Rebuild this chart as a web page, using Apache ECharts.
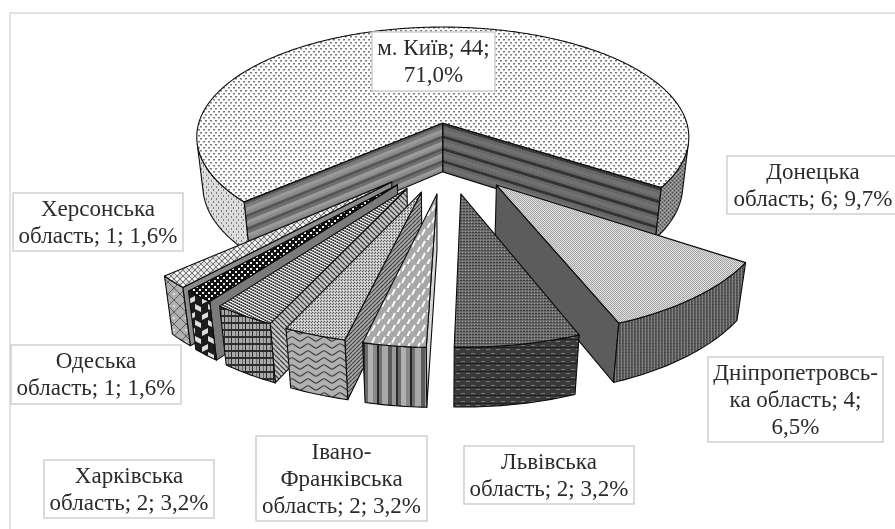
<!DOCTYPE html>
<html><head><meta charset="utf-8">
<style>html,body{margin:0;padding:0;background:#fff}#c{width:895px;height:529px}</style>
<script src="https://cdn.jsdelivr.net/npm/echarts@6/dist/echarts.min.js"></script>
</head><body><div id="c"></div>
<script>
// ---- data ----
const categories = ['м. Київ','Донецька\nобласть','Дніпропетровсь-\nка область','Львівська\nобласть','Івано-\nФранківська\nобласть','Харківська\nобласть','Одеська\nобласть','Херсонська\nобласть'];
const values = [44,6,4,2,2,2,1,1];
const percentLabels = ['71,0%','9,7%','6,5%','3,2%','3,2%','3,2%','1,6%','1,6%'];
const percentOnNewLine = [true,false,true,false,false,false,false,false];

// ---- layout (not data) ----
const labelBoxes = [[372,32,123,59],[727,156,172,58],[708,357,175,85],[464,446,170,58],[256,436,171,85],[44,460,170,58],[11,345,170,59],[13,193,170,58]];
const explode = [.27,.34,.34,.34,.34,.34,.34,.34];
const explodeXScale = .88;
const radius = [1,1.035,1.035,1.035,1.035,1.035,1.035,1.035];
const depth = [50,54.5,54.5,54.5,54.5,54.5,54.5,54.5];
const paintOrder = [0,7,6,5,4,3,1,2];
const startAngle = 228.2;
const CENTER = [.02,.27];
const P = {x0:442,y0:123,R:244,B:108.2,k:.127,m:.025};

function proj(X,Y,Z){const w=1-P.k*Y+P.m*(Z?1:0);return [P.x0+P.R*X/w,P.y0+(P.B*Y+Z)/w];}
function dir(a){const r=a*Math.PI/180;return [Math.sin(r),-Math.cos(r)];}
function area(p){let s=0;for(let i=0;i<p.length;i++){const a=p[i],b=p[(i+1)%p.length];s+=a[0]*b[1]-b[0]*a[1];}return s/2;}

// ---- texture fills ----
function mk(w,h,bg,fn){const c=document.createElement('canvas');c.width=w;c.height=h;const g=c.getContext('2d');g.fillStyle=bg;g.fillRect(0,0,w,h);fn&&fn(g);return {image:c,repeat:'repeat'};}
function dither(a,b){return mk(2,2,a,g=>{g.fillStyle=b;g.fillRect(0,0,1,1);g.fillRect(1,1,1,1);});}
function diag(s,bg,fg,lw,flip){return mk(s,s,bg,g=>{g.strokeStyle=fg;g.lineWidth=lw;for(let i=-s;i<=2*s;i+=s){g.beginPath();if(flip){g.moveTo(i,0);g.lineTo(i+s,s);}else{g.moveTo(i+s,0);g.lineTo(i,s);}g.stroke();}});}
const T = {
 kyivTop: mk(5,6,'#fff',g=>{g.fillStyle='#777';g.fillRect(0,0,2,1);g.fillRect(3,3,2,1);g.fillStyle='#bbb';g.fillRect(0,1,2,1);g.fillRect(3,4,2,1);}),
 kyivL: mk(5,6,'#dcdcdc',g=>{g.fillStyle='#7c7c7c';g.fillRect(1,0,1,2);g.fillRect(3,3,1,2);}),
 kyivR: mk(4,4,'#858585',g=>{g.fillStyle='#444';g.fillRect(0,0,1,1);g.fillRect(2,2,1,1);g.fillStyle='#aaa';g.fillRect(2,0,1,1);g.fillRect(0,2,1,1);}),
 donTop: dither('#e0e0e0','#a4a4a4'),
 donArc: mk(3,3,'#585858',g=>{g.fillStyle='#808080';g.fillRect(0,0,1,3);g.fillStyle='#3c3c3c';g.fillRect(1,1,1,1);}),
 donWall: '#5c5c5c',
 dniTop: mk(3,3,'#6c6c6c',g=>{g.fillStyle='#999';g.fillRect(0,0,1,1);g.fillStyle='#3e3e3e';g.fillRect(1,1,2,1);}),
 dniArc: mk(10,8,'#3a3a3a',g=>{g.fillStyle='#7a7a7a';g.fillRect(1,1,4,1);g.fillRect(6,5,4,1);g.fillStyle='#222';g.fillRect(0,3,10,1);}),
 lvTop: mk(10,12,'#a8a8a8',g=>{g.strokeStyle='#fafafa';g.lineWidth=2;g.beginPath();g.moveTo(2,7);g.lineTo(5,1);g.moveTo(7,13);g.lineTo(10,7);g.moveTo(-3,13);g.lineTo(0,7);g.stroke();}),
 lvWall: '#d6d6d6',
 lvArc: mk(33,8,'#9a9a9a',g=>{const s=[[0,2,'#2a2a2a'],[2,3,'#6a6a6a'],[5,5,'#b0b0b0'],[10,4,'#888'],[14,2,'#222'],[16,3,'#707070'],[19,6,'#a8a8a8'],[25,4,'#5a5a5a'],[29,4,'#9a9a9a']];s.forEach(a=>{g.fillStyle=a[2];g.fillRect(a[0],0,a[1],8);});}),
 ifTop: mk(3,3,'#c0c0c0',g=>{g.fillStyle='#5c5c5c';g.fillRect(0,0,1,1);g.fillRect(2,1,1,1);g.fillStyle='#eee';g.fillRect(1,2,1,1);}),
 ifWall: diag(4,'#a8a8a8','#444',1.2),
 ifArc: mk(16,7,'#b0b0b0',g=>{g.strokeStyle='#3c3c3c';g.lineWidth=1.1;g.beginPath();g.moveTo(0,3);g.bezierCurveTo(4,0,4,0,8,3);g.bezierCurveTo(12,6,12,6,16,3);g.stroke();}),
 khTop: mk(6,6,'#7e7e7e',g=>{g.fillStyle='#eee';for(let i=0;i<6;i++){g.fillRect((i*2)%6,i,2,1);}g.fillStyle='#2c2c2c';for(let i=0;i<6;i++){g.fillRect((i*2+3)%6,i,1,1);}}),
 khWall: diag(5,'#c8c8c8','#444',1.3,true),
 khArc: mk(7,7,'#a8a8a8',g=>{g.fillStyle='#2c2c2c';g.fillRect(0,0,7,2);g.fillRect(0,0,1,7);g.fillStyle='#666';g.fillRect(4,2,1,5);}),
 odTop: mk(6,6,'#111',g=>{g.fillStyle='#eee';g.fillRect(1,1,2,2);g.fillRect(4,4,2,2);}),
 odWall: '#7a7a7a',
 odArc: mk(13,16,'#1c1c1c',g=>{g.fillStyle='#dedede';g.beginPath();g.moveTo(0,0);g.lineTo(6,3);g.lineTo(6,8);g.lineTo(0,5);g.closePath();g.fill();g.beginPath();g.moveTo(7,11);g.lineTo(13,8);g.lineTo(13,13);g.lineTo(7,16);g.closePath();g.fill();}),
 heTop: mk(6,6,'#dedede',g=>{g.strokeStyle='#777';g.lineWidth=1;g.beginPath();g.moveTo(0,3);g.lineTo(3,0);g.lineTo(6,3);g.lineTo(3,6);g.closePath();g.stroke();g.fillStyle='#fff';g.fillRect(2,2,2,2);}),
 heWall: '#8c8c8c',
 heArc: mk(12,12,'#b0b0b0',g=>{g.strokeStyle='#5c5c5c';g.lineWidth=1;g.beginPath();g.moveTo(0,6);g.lineTo(6,0);g.lineTo(12,6);g.lineTo(6,12);g.closePath();g.stroke();g.fillStyle='#ddd';g.fillRect(5,5,2,2);})
};
const faces = [
 {top:T.kyivTop,arcL:T.kyivL,arcR:T.kyivR,wallS:null,wallE:null},
 {top:T.donTop,arcL:T.donArc,arcR:T.donArc,wallS:T.donWall,wallE:T.donWall},
 {top:T.dniTop,arcL:T.dniArc,arcR:T.dniArc,wallS:'#444',wallE:'#444'},
 {top:T.lvTop,arcL:T.lvArc,arcR:T.lvArc,wallS:T.lvWall,wallE:T.lvWall},
 {top:T.ifTop,arcL:T.ifArc,arcR:T.ifArc,wallS:T.ifWall,wallE:T.ifWall},
 {top:T.khTop,arcL:T.khArc,arcR:T.khArc,wallS:T.khWall,wallE:T.khWall},
 {top:T.odTop,arcL:T.odArc,arcR:T.odArc,wallS:T.odWall,wallE:T.odWall},
 {top:T.heTop,arcL:T.heArc,arcR:T.heArc,wallS:T.heWall,wallE:T.heWall}
];
const bandL = ['#5a5a5a','#7a7a7a','#999','#8a8a8a','#555','#6e6e6e','#9a9a9a','#8a8a8a','#555','#6e6e6e','#9a9a9a','#8a8a8a','#555','#6e6e6e','#999','#8a8a8a'];
const bandR = ['#3a3a3a','#666','#707070','#666','#333','#666','#707070','#666','#333','#666','#707070','#666','#333','#666','#707070','#666'];

const EDGE = {stroke:'#0c0c0c',lineWidth:1.1,lineJoin:'round'};
const total = values.reduce((a,b)=>a+b,0);
function angles(i){let s=startAngle;for(let j=0;j<i;j++)s+=values[j]/total*360;return [s,s+values[i]/total*360];}

function renderItem(params,api){
  const i=params.dataIndex, v=api.value(0);
  const a0=angles(i)[0], a1=a0+v/total*360, mid=(a0+a1)/2;
  const d=dir(mid), cx=CENTER[0]+explode[i]*explodeXScale*d[0], cy=CENTER[1]+explode[i]*d[1], r=radius[i];
  const H=depth[i];
  const pt=(a,z)=>{const q=dir(a);return proj(cx+r*q[0],cy+r*q[1],z*H);};
  const ctr=z=>proj(cx,cy,z*H);
  const n=Math.max(6,Math.ceil(a1-a0));
  const base=paintOrder.indexOf(i)*10+1, kids=[];
  const poly=(pts,fill,z,stroke)=>kids.push({type:'polygon',shape:{points:pts},z2:base+z,silent:true,
    style:Object.assign({fill:fill},stroke===false?{stroke:null,lineWidth:0}:EDGE)});
  // radial walls
  [[a0,-1],[a1,1]].forEach(w=>{
    const q=[ctr(0),pt(w[0],0),pt(w[0],1),ctr(1)];
    if(area(q)*w[1]<=0) return;
    if(i===0){
      const bands=w[1]<0?bandL:bandR;
      bands.forEach((c,b)=>{
        const t0=b/bands.length,t1=(b+1.15)/bands.length>1?1:(b+1.15)/bands.length;
        const lerp=(A,B,t)=>[A[0]+(B[0]-A[0])*t,A[1]+(B[1]-A[1])*t];
        poly([lerp(q[0],q[3],t0),lerp(q[1],q[2],t0),lerp(q[1],q[2],t1),lerp(q[0],q[3],t1)],c,0,false);
      });
      poly(q,'rgba(0,0,0,0)',1);
    } else poly(q,w[1]<0?faces[i].wallS:faces[i].wallE,0);
  });
  // outer rim
  let run=[];
  const flush=()=>{ if(!run.length) return;
    const top=run.map(a=>pt(a,0)), bot=run.map(a=>pt(a,1)).reverse();
    const m=run[run.length>>1]%360;
    poly(top.concat(bot),m>180?faces[i].arcL:faces[i].arcR,2); run=[]; };
  for(let s=0;s<n;s++){
    const p=a0+(a1-a0)*s/n,q=a0+(a1-a0)*(s+1)/n;
    const f=area([pt(p,0),pt(q,0),pt(q,1),pt(p,1)])<0;
    if(f){ if(!run.length) run.push(p); run.push(q);} else flush();
  }
  flush();
  // top face
  const rim=[];for(let s=0;s<=n*2;s++)rim.push(pt(a0+(a1-a0)*s/(n*2),0));
  poly([ctr(0)].concat(rim),faces[i].top,3);
  // label
  const b=labelBoxes[i];
  const pct=percentLabels[i];
  const txt=categories[i]+'; '+v+';'+(percentOnNewLine[i]?'\n':' ')+pct;
  kids.push({type:'rect',shape:{x:b[0],y:b[1],width:b[2],height:b[3]},z2:500,silent:true,style:{fill:'#fff',stroke:'#cfcfcf',lineWidth:1.5}});
  kids.push({type:'text',x:b[0]+b[2]/2,y:b[1]+b[3]/2+1,z2:501,silent:true,style:{text:txt,font:'23px "Liberation Serif"',fill:'#2b2b2b',align:'center',verticalAlign:'middle',lineHeight:27}});
  return {type:'group',children:kids};
}

const chart=echarts.init(document.getElementById('c'));
chart.setOption({
  animation:false,backgroundColor:'#fff',
  graphic:[
    {type:'line',silent:true,shape:{x1:10,y1:13,x2:895,y2:13},style:{stroke:'#e2e2e2',lineWidth:2}},
    {type:'line',silent:true,shape:{x1:10,y1:12,x2:10,y2:529},style:{stroke:'#e2e2e2',lineWidth:2}}
  ],
  series:[{type:'custom',coordinateSystem:'none',renderItem:renderItem,
    data:values.map((v,i)=>({value:v,name:categories[i]}))}]
});
</script></body></html>
